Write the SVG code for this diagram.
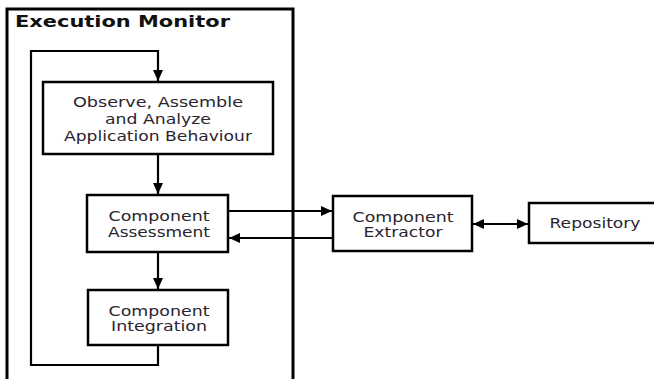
<svg xmlns="http://www.w3.org/2000/svg" width="654" height="379" viewBox="0 0 654 379">
<style>
.box{fill:#fff;stroke:#000;stroke-width:2.5}
.t{font-family:"DejaVu Sans",Verdana,sans-serif;font-size:13.5px;fill:#2a2530;text-anchor:middle}
.title{font-family:"DejaVu Sans",Verdana,sans-serif;font-size:16px;font-weight:bold;fill:#111}
.c{fill:none;stroke:#000;stroke-width:2.2}
</style>
<defs>
<marker id="ah" markerUnits="userSpaceOnUse" markerWidth="14" markerHeight="14" viewBox="0 0 14 14" refX="12" refY="7" orient="auto-start-reverse">
<path d="M1,2 L12,7 L1,12 Z" fill="#000"/>
</marker>
</defs>
<rect width="654" height="379" fill="#fff"/>
<g id="execution-monitor">
<rect x="7" y="9" width="286" height="385" fill="none" stroke="#000" stroke-width="3"/>
<text class="title" x="15" y="27" textLength="215" lengthAdjust="spacingAndGlyphs">Execution Monitor</text>
</g>
<g id="connectors">
<path class="c" d="M158,346 V365 H31 V51 H158 V81" marker-end="url(#ah)"/>
<path class="c" d="M158,155 V194" marker-end="url(#ah)"/>
<path class="c" d="M158,253 V289" marker-end="url(#ah)"/>
<path class="c" d="M229,211 H332" marker-end="url(#ah)"/>
<path class="c" d="M332,238 H229" marker-end="url(#ah)"/>
<path class="c" d="M473,224 H528" marker-start="url(#ah)" marker-end="url(#ah)"/>
</g>
<g id="observe">
<rect class="box" x="43" y="82" width="230" height="72"/>
<text class="t" x="158" y="107" textLength="170" lengthAdjust="spacingAndGlyphs">Observe, Assemble</text>
<text class="t" x="158" y="124" textLength="106" lengthAdjust="spacingAndGlyphs">and Analyze</text>
<text class="t" x="158" y="141" textLength="188" lengthAdjust="spacingAndGlyphs">Application Behaviour</text>
</g>
<g id="assessment">
<rect class="box" x="87" y="195" width="141" height="57"/>
<text class="t" x="159" y="221" textLength="101" lengthAdjust="spacingAndGlyphs">Component</text>
<text class="t" x="159" y="237" textLength="102" lengthAdjust="spacingAndGlyphs">Assessment</text>
</g>
<g id="integration">
<rect class="box" x="88" y="290" width="140" height="55"/>
<text class="t" x="159" y="316" textLength="101" lengthAdjust="spacingAndGlyphs">Component</text>
<text class="t" x="159" y="331" textLength="96" lengthAdjust="spacingAndGlyphs">Integration</text>
</g>
<g id="extractor">
<rect class="box" x="333" y="196" width="139" height="55"/>
<text class="t" x="403" y="222" textLength="101" lengthAdjust="spacingAndGlyphs">Component</text>
<text class="t" x="403" y="237" textLength="79" lengthAdjust="spacingAndGlyphs">Extractor</text>
</g>
<g id="repository">
<rect class="box" x="529" y="203" width="135" height="40"/>
<text class="t" x="595" y="228" textLength="91" lengthAdjust="spacingAndGlyphs">Repository</text>
</g>
</svg>
